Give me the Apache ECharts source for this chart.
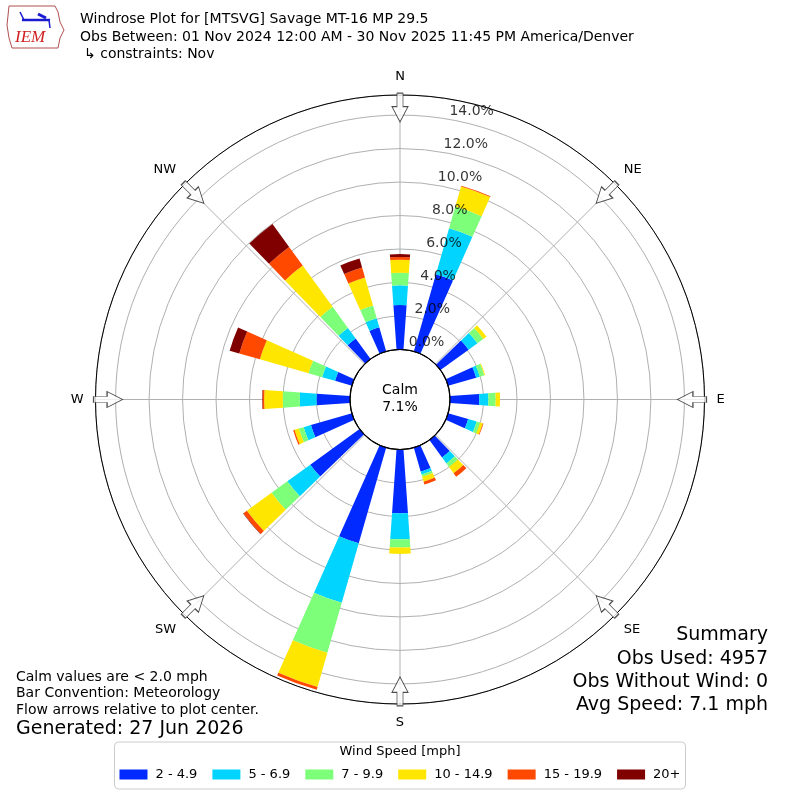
<!DOCTYPE html>
<html>
<head>
<meta charset="utf-8">
<title>Windrose Plot MTSVG</title>
<script src="https://cdn.jsdelivr.net/npm/echarts@6/dist/echarts.min.js"></script>
<style>
  html, body { margin: 0; padding: 0; background: #fff; }
  #chart { width: 800px; height: 800px; }
</style>
</head>
<body>
<div id="chart"></div>
<script>
// wind direction bins (deg) that have observations
var directions = [0, 20, 50, 70, 90, 110, 140, 160, 180, 200, 230, 250, 270, 290, 320, 340];
var speedBins = ['2 - 4.9', '5 - 6.9', '7 - 9.9', '10 - 14.9', '15 - 19.9', '20+'];
var binColors = ['#002aff', '#00d4ff', '#7dff7a', '#ffe600', '#ff4900', '#800000'];
// percent of observations in each speed bin, per direction above
var pct2to5   = [2.66, 4.80, 2.08, 1.75, 1.75, 1.25, 1.29, 1.50, 3.81, 5.95, 3.64, 2.55, 2.00, 1.05, 1.52, 1.50];
var pct5to7   = [1.17, 2.85, 0.65, 0.22, 0.54, 0.53, 0.44, 0.18, 1.55, 3.69, 1.69, 0.45, 1.00, 0.80, 0.78, 0.56];
var pct7to10  = [0.76, 1.35, 0.44, 0.28, 0.44, 0.21, 0.26, 0.14, 0.50, 3.11, 1.17, 0.30, 1.02, 0.85, 1.56, 0.80];
var pct10to15 = [0.77, 1.25, 0.23, 0.05, 0.26, 0.17, 0.47, 0.30, 0.38, 2.13, 1.82, 0.27, 1.11, 3.02, 3.04, 1.74];
var pct15to20 = [0.17, 0.05, 0.00, 0.00, 0.00, 0.04, 0.26, 0.18, 0.00, 0.17, 0.25, 0.08, 0.09, 1.28, 1.38, 0.62];
var pct20plus = [0.17, 0.00, 0.00, 0.00, 0.00, 0.00, 0.00, 0.00, 0.00, 0.00, 0.03, 0.00, 0.03, 0.60, 1.69, 0.56];
var ringTicks = [0, 2, 4, 6, 8, 10, 12, 14];
var compass = ['N', 'NE', 'E', 'SE', 'S', 'SW', 'W', 'NW'];
var compassAngles = [0, 45, 90, 135, 180, 225, 270, 315];
var calmPct = 7.1;
var rMax = 15.2;

var FONT = 'DejaVu Sans';
var CENTER = [400, 399.5];
var RINNER = 50, ROUTER = 304.5;

var chart = echarts.init(document.getElementById('chart'));

// 36 sectors of 10 degrees
var sectors = [];
for (var s = 0; s < 36; s++) sectors.push(String(s * 10));

var binArrays = [pct2to5, pct5to7, pct7to10, pct10to15, pct15to20, pct20plus];
var series = binArrays.map(function (arr, k) {
  var data = sectors.map(function () { return 0; });
  directions.forEach(function (d, i) { data[d / 10] = arr[i]; });
  return {
    type: 'bar', name: speedBins[k], coordinateSystem: 'polar', polarIndex: 0,
    stack: 'wind', data: data, barWidth: '80%', silent: true,
    itemStyle: { color: binColors[k] }
  };
});

// radial labels
series.push({
  type: 'scatter', coordinateSystem: 'polar', polarIndex: 1, symbolSize: 0, silent: true,
  data: ringTicks.map(function (t) { return [t, 10]; }),
  label: {
    show: true, position: 'right', distance: 0, offset: [0, -8],
    formatter: function (p) { return p.value[0].toFixed(1) + '%'; },
    color: '#000', fontSize: 14, fontFamily: FONT
  }
});

// flow arrows
series.push({
  type: 'scatter', coordinateSystem: 'polar', polarIndex: 1, silent: true, z: 6,
  symbol: 'path://M5,0 L11,0 L11,14 L16,14 L8,30 L0,14 L5,14 Z',
  symbolSize: [16, 29],
  itemStyle: { color: '#fff', borderColor: '#222', borderWidth: 1 },
  data: compassAngles.map(function (a) { return { value: [14.45, a], symbolRotate: -a }; })
});

var hidden = { show: false };

function txt(x, y, text, size, align) {
  return { type: 'text', x: x, y: y,
    style: { text: text, fontSize: size, fontFamily: FONT, fill: '#000', align: align || 'left', verticalAlign: 'middle' } };
}

chart.setOption({
  animation: false,
  backgroundColor: '#fff',
  polar: [
    { center: CENTER, radius: [RINNER, ROUTER] },
    { center: CENTER, radius: [RINNER, ROUTER] },
    { center: CENTER, radius: [0, RINNER] }
  ],
  angleAxis: [
    { polarIndex: 0, type: 'category', data: sectors, startAngle: 95, clockwise: true,
      axisLine: hidden, axisTick: hidden, axisLabel: hidden, splitLine: hidden },
    { polarIndex: 1, type: 'value', min: 0, max: 360, interval: 45, startAngle: 90, clockwise: true,
      axisLine: { show: true, lineStyle: { color: '#000', width: 1 } },
      axisTick: hidden,
      axisLabel: { show: true, margin: 12, color: '#000', fontSize: 13, fontFamily: FONT,
        formatter: function (v) { return v >= 360 ? '' : compass[Math.round(v / 45)]; } },
      splitLine: { show: true, lineStyle: { color: '#b0b0b0', width: 1 } } },
    { polarIndex: 2, type: 'value', min: 0, max: 360, z: 10,
      axisLine: { show: true, lineStyle: { color: '#000', width: 1.2 } },
      axisTick: hidden, axisLabel: hidden, splitLine: hidden }
  ],
  radiusAxis: [
    { polarIndex: 0, type: 'value', min: 0, max: rMax, show: false },
    { polarIndex: 1, type: 'value', min: 0, max: rMax, interval: 2,
      axisLine: hidden, axisTick: hidden, axisLabel: hidden,
      splitLine: { show: true, showMinLine: false, showMaxLine: false, lineStyle: { color: '#b0b0b0', width: 1 } } },
    { polarIndex: 2, type: 'value', min: 0, max: 1, show: false }
  ],
  legend: {
    data: speedBins, left: 'center', top: 742, icon: 'rect',
    itemWidth: 28, itemHeight: 10, itemGap: 15,
    padding: [26, 5, 8, 5],
    backgroundColor: '#fff', borderColor: '#cccccc', borderWidth: 1, borderRadius: 4,
    textStyle: { color: '#000', fontSize: 13, fontFamily: FONT, padding: [0, 0, 0, 3] },
    selectedMode: false
  },
  graphic: [
    // header
    txt(80, 19, 'Windrose Plot for [MTSVG] Savage MT-16 MP 29.5', 14),
    txt(80, 37, 'Obs Between: 01 Nov 2024 12:00 AM - 30 Nov 2025 11:45 PM America/Denver', 14),
    txt(84, 54, '\u21b3 constraints: Nov', 14),
    // IEM logo
    { type: 'polyline', shape: { points: [[9, 6], [55, 6], [58, 12], [60, 22], [64, 30], [60, 38], [58, 48], [12, 48], [9, 38], [7, 25], [9, 6]] },
      style: { stroke: '#b05050', lineWidth: 1, fill: 'none' } },
    { type: 'line', shape: { x1: 22, y1: 20, x2: 50, y2: 20 }, style: { stroke: '#1a1ad0', lineWidth: 2.5 } },
    { type: 'line', shape: { x1: 20, y1: 12, x2: 24, y2: 20 }, style: { stroke: '#1a1ad0', lineWidth: 1.5 } },
    { type: 'line', shape: { x1: 38, y1: 14, x2: 46, y2: 18 }, style: { stroke: '#1a1ad0', lineWidth: 3 } },
    { type: 'line', shape: { x1: 49, y1: 20, x2: 50, y2: 28 }, style: { stroke: '#1a1ad0', lineWidth: 1.5 } },
    { type: 'text', left: 15, top: 29, style: { text: 'IEM', fontSize: 17, fontStyle: 'italic', fontFamily: 'Liberation Serif', fill: '#d02020' } },
    // calm
    Object.assign(txt(400, 390, 'Calm', 14, 'center'), { z: 20 }),
    Object.assign(txt(400, 407, calmPct.toFixed(1) + '%', 14, 'center'), { z: 20 }),
    // notes bottom left
    txt(16, 677, 'Calm values are < 2.0 mph', 14),
    txt(16, 693, 'Bar Convention: Meteorology', 14),
    txt(16, 710, 'Flow arrows relative to plot center.', 14),
    txt(16, 729, 'Generated: 27 Jun 2026', 19),
    // summary
    txt(768, 635, 'Summary', 19, 'right'),
    txt(768, 659, 'Obs Used: 4957', 19, 'right'),
    txt(768, 682, 'Obs Without Wind: 0', 19, 'right'),
    txt(768, 705, 'Avg Speed: 7.1 mph', 19, 'right'),
    // legend title
    Object.assign(txt(400, 752, 'Wind Speed [mph]', 13, 'center'), { z: 100 })
  ],
  series: series
});
</script>
</body>
</html>
